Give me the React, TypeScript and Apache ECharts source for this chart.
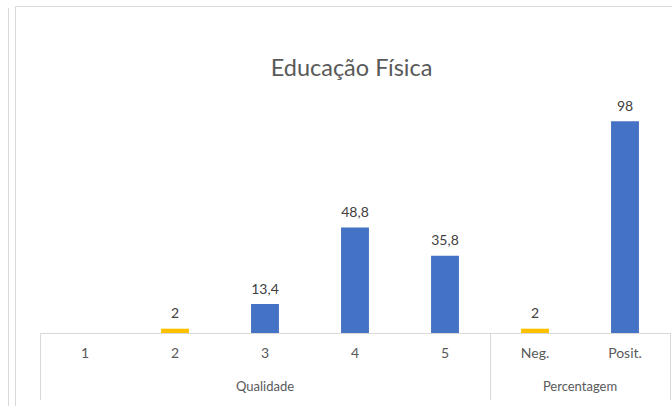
import React, { useEffect, useRef } from "react";
import * as echarts from "echarts";

const title = "Educação Física";
const categories = ["1", "2", "3", "4", "5", "Neg.", "Posit."];
const values: (number | null)[] = [null, 2, 13.4, 48.8, 35.8, 2, 98];
const barColors = ["#4472C4", "#FFC000", "#4472C4", "#4472C4", "#4472C4", "#FFC000", "#4472C4"];
const groups = ["Qualidade", "Percentagem"];
const groupSpans = [
  [0, 4],
  [5, 6],
];

const FONT = "Lato, 'Open Sans', sans-serif";
const LINE = "#D9D9D9";

export default function App() {
  const ref = useRef<HTMLDivElement>(null);
  useEffect(() => {
    if (!ref.current) return;
    const chart = echarts.init(ref.current, undefined, { renderer: "svg" });
    chart.setOption({
      animation: false,
      backgroundColor: "#ffffff",
      grid: { left: 40, right: 2, top: 117, bottom: 73 },
      xAxis: {
        type: "category",
        data: categories,
        axisLine: { show: true, lineStyle: { color: LINE, width: 1 } },
        axisTick: { show: false },
        axisLabel: { color: "#595959", fontSize: 14, fontFamily: FONT, margin: 12 },
      },
      yAxis: {
        type: "value",
        min: 0,
        max: 100,
        show: false,
        splitLine: { show: false },
      },
      series: [
        {
          type: "bar",
          barWidth: "31%",
          data: values.map((v, i) => ({ value: v, itemStyle: { color: barColors[i] } })),
          label: {
            show: true,
            position: "top",
            distance: 9,
            color: "#404040",
            fontSize: 14,
            fontFamily: FONT,
            formatter: (p: any) => (p.value == null ? "" : String(p.value).replace(".", ",")),
          },
        },
      ],
    });

    const px = (i: number) => chart.convertToPixel({ xAxisIndex: 0 }, categories[i]) as number;
    const y0 = chart.convertToPixel({ yAxisIndex: 0 }, 0) as number;
    const step = px(1) - px(0);
    const boundaries = [px(0) - step / 2, px(4) + step / 2, px(6) + step / 2];
    const graphics: any[] = [
      { type: "line", shape: { x1: 8.5, y1: 8, x2: 8.5, y2: 406 }, style: { stroke: LINE, lineWidth: 1 } },
      { type: "line", shape: { x1: 15.5, y1: 6, x2: 15.5, y2: 406 }, style: { stroke: LINE, lineWidth: 1 } },
      { type: "line", shape: { x1: 15, y1: 6.5, x2: 672, y2: 6.5 }, style: { stroke: LINE, lineWidth: 1 } },
      {
        type: "text",
        x: 351.5,
        y: 67,
        style: {
          text: title,
          fontSize: 23.5,
          fontFamily: FONT,
          fill: "#595959",
          textAlign: "center",
          textVerticalAlign: "middle",
        },
      },
    ];
    boundaries.forEach((bx) => {
      const x = Math.round(bx) + 0.5;
      graphics.push({ type: "line", shape: { x1: x, y1: y0, x2: x, y2: 400 }, style: { stroke: LINE, lineWidth: 1 } });
    });
    groups.forEach((g, gi) => {
      const [a, b] = groupSpans[gi];
      const cx = (px(a) + px(b)) / 2;
      graphics.push({
        type: "text",
        x: cx,
        y: 386,
        style: {
          text: g,
          fontSize: 13,
          fontFamily: FONT,
          fill: "#595959",
          textAlign: "center",
          textVerticalAlign: "middle",
        },
      });
    });
    chart.setOption({ graphic: graphics });
    return () => chart.dispose();
  }, []);
  return <div ref={ref} style={{ position: "fixed", left: 0, top: 0, width: 672, height: 406 }} />;
}
